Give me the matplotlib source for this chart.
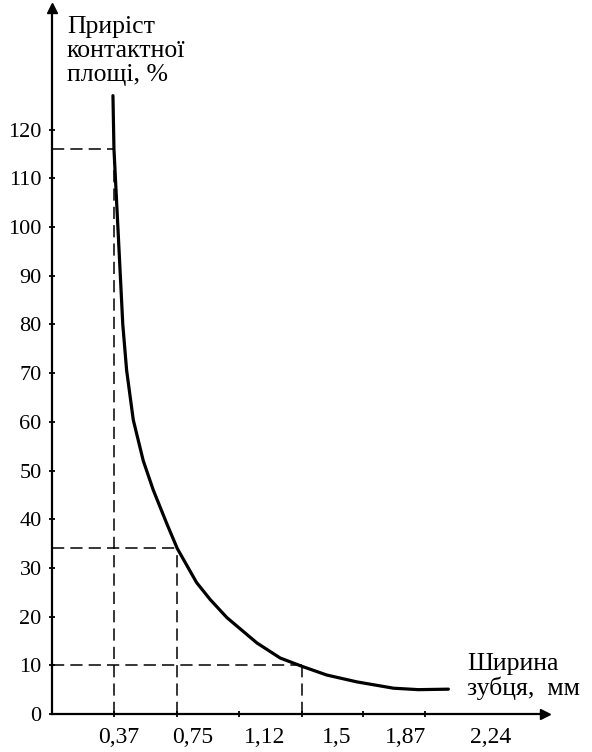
import matplotlib
matplotlib.use("Agg")
import matplotlib.pyplot as plt

# ---- data ----
curve_x = [0.366, 0.372, 0.40, 0.425, 0.448, 0.488, 0.548, 0.608, 0.688, 0.752,
           0.868, 0.95, 1.05, 1.23, 1.37, 1.50, 1.65, 1.83, 2.05, 2.20, 2.38]
curve_y = [127, 116, 97, 80, 70.6, 60.4, 52, 46, 39.2, 34,
           27, 23.5, 19.8, 14.6, 11.5, 9.8, 8.0, 6.6, 5.3, 5.0, 5.1]

marked_x = [0.37, 0.75, 1.5]
marked_y = [116, 34, 10]

x_ticks = [0.37, 0.75, 1.12, 1.5, 1.87, 2.24]
x_tick_labels = ["0,37", "0,75", "1,12", "1,5", "1,87", "2,24"]
y_ticks = [0, 10, 20, 30, 40, 50, 60, 70, 80, 90, 100, 110, 120]
y_tick_labels = [str(v) for v in y_ticks]

y_title = "Приріст\nконтактної\nплощі, %"
x_title = "Ширина\nзубця,  мм"

# ---- style ----
plt.rcParams['font.family'] = ['Liberation Serif', 'DejaVu Serif']
FS_Y = 16
FS_X = 17
FS_T = 18.5
label_shift_pt = [4, 11, 19, 25, 30, 47]   # scan misalignment of x labels

fig = plt.figure(figsize=(5.92, 7.52), dpi=100)
ax = fig.add_axes([52/592, 1-714/752, (545-52)/592, (714-8)/752])
ax.set_xlim(0, 2.96)
ax.set_ylim(0, 145)

for s in ("top", "right"):
    ax.spines[s].set_visible(False)
for s in ("left", "bottom"):
    ax.spines[s].set_linewidth(1.6)

# arrows at axis ends
ax.plot(1, 0, marker=">", color="black", markersize=7, transform=ax.transAxes, clip_on=False)
ax.plot(0, 1, marker="^", color="black", markersize=7, transform=ax.transAxes, clip_on=False)

# dashed guide lines
for mx, my in zip(marked_x, marked_y):
    ax.plot([0, mx], [my, my], color="black", lw=1.1, ls=(0, (8, 4)))
    ax.plot([mx, mx], [0, my], color="black", lw=1.1, ls=(0, (8, 4)))

# curve
ax.plot(curve_x, curve_y, color="black", lw=2.3, solid_capstyle="round",
        solid_joinstyle="round")

# ticks
ax.set_yticks(y_ticks)
ax.set_yticklabels(y_tick_labels, fontsize=FS_Y)
ax.tick_params(axis="y", direction="inout", length=5, width=1.3, pad=5)
ax.set_xticks(x_ticks)
ax.set_xticklabels([""] * len(x_ticks))
ax.tick_params(axis="x", direction="inout", length=5, width=1.3)
for xv, lab, dx in zip(x_ticks, x_tick_labels, label_shift_pt):
    ax.annotate(lab, xy=(xv, 0), xycoords=("data", "axes fraction"),
                xytext=(dx, -9.5), textcoords="offset points",
                ha="center", va="top", fontsize=FS_X, annotation_clip=False)

# axis titles
fig.text(67/592, 1-16/752, y_title, ha="left", va="top", fontsize=FS_T, linespacing=1.12)
fig.text(467/592, 1-653/752, x_title, ha="left", va="top", fontsize=FS_T, linespacing=1.08)

fig.savefig("out.png", dpi=100)
